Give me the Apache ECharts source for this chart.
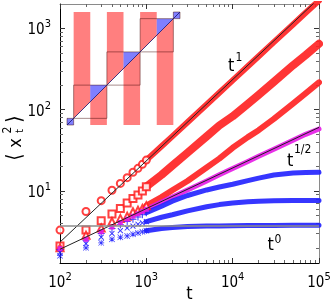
<!DOCTYPE html>
<html><head><meta charset="utf-8">
<script src="https://cdn.jsdelivr.net/npm/echarts@6/dist/echarts.min.js"></script>
<style>html,body{margin:0;padding:0;background:#fff}#c{width:332px;height:306px}</style>
</head><body><div id="c"></div>
<script>
// ---- data ----
const tValues = [100,200,300,400,500,600,700,800,900,1000,1500,2000,3000,5000,7000,10000,15000,20000,30000,50000,70000,100000];
const redCircles    = [3.3,5.6,7.6,10.2,12.4,14.6,17.0,19.0,21.3,24.0,35.5,47,70,116,162,230,342,455,680,1120,1560,2200];
const redSquares    = [2.1,3.3,4.3,5.2,6.1,7.1,8.1,8.9,10.0,11.3,15.8,20.5,29.5,47,64,83,118,152,220,352,470,648];
const redTriangles  = [2.0,2.86,3.5,4.2,4.6,4.9,5.55,5.8,6.1,6.6,8.4,10.2,13.3,19.5,25,34,46,56,77,119,159,217];
const magentaSquares= [1.95,2.55,3.15,3.6,4.1,4.5,4.9,5.25,5.6,5.95,7.3,8.45,10.3,13.3,15.8,18.9,23.1,26.7,32.7,42.2,49.8,58];
const bluePlus      = [1.9,2.45,3.0,3.45,3.85,4.2,4.5,4.8,5.1,5.4,6.5,7.5,8.8,10.3,11.2,12.1,13.4,14.4,15.7,16.6,16.9,17.0];
const blueCross     = [1.75,2.25,2.7,3.0,3.25,3.5,3.7,3.9,4.05,4.2,4.75,5.1,5.7,6.4,6.8,7.1,7.35,7.5,7.6,7.65,7.65,7.65];
const blueStars     = [1.6,2.0,2.3,2.55,2.7,2.8,2.94,3.05,3.15,3.25,3.45,3.55,3.65,3.7,3.72,3.74,3.75,3.76,3.77,3.78,3.78,3.78];
const refT      = [100, 100000];
const refLinear = [2.35, 2350];
const refSqrt   = [1.92, 60.7];
const refFlat   = [3.7, 3.7];
const xRange = [100, 100000];
const yRange = [1.3, 2000];
const xTickExp = [2,3,4,5];
const yTickExp = [1,2,3];
// inset (staircase map) geometry in its own units
const insetRange = [-0.2, 3.2];
const insetRedAbove = [[0,0.5],[1,1.5],[2,2.5]];
const insetRedBelow = [[0.5,1],[1.5,2],[2.5,3]];
const insetBlueTriangles = [[0.5,1],[1.5,2],[2.5,3]];
const insetBlueEnds = [[-0.2,0],[3,3.2]];
const insetSteps = [[-0.2,0],[0,1],[1,2],[2,3],[3,3.2]];

// ---- helpers ----
const FONT = "'Liberation Sans Narrow','DejaVu Sans Condensed','Liberation Sans',Arial,sans-serif";
const splitIdx = 9; // markers up to t=1000, dense band afterwards
function pairs(xs, ys, from, to) { const o=[]; for (let i=from;i<to;i++) o.push([xs[i], ys[i]]); return o; }
function minorLogs(lo, hi) {
  const out=[];
  for (let e=Math.floor(lo)-1; e<=Math.ceil(hi); e++) for (let k=2;k<=9;k++) {
    const v = e + Math.log10(k); if (v>lo+1e-9 && v<hi-1e-9) out.push(v);
  }
  return out;
}
const xl = [Math.log10(xRange[0]), Math.log10(xRange[1])];
const yl = [Math.log10(yRange[0]), Math.log10(yRange[1])];
const xMinor = minorLogs(xl[0], xl[1]);
const yMinor = minorLogs(yl[0], yl[1]);
const labelRich = {
  b: {fontSize:15, fontFamily:FONT, color:'#000', lineHeight:19, verticalAlign:'bottom'},
  s: {fontSize:11, fontFamily:FONT, color:'#000', lineHeight:11, verticalAlign:'top'}
};
const fmt = v => '{b|10}{s|' + Math.round(v) + '}';

function tickAxis(kind, pos, vals, len, withLabel, lineColor, range) {
  return {
    type:'value', gridIndex:0, position:pos, min:range[0], max:range[1],
    axisLine:{show: !!lineColor, onZero:false, lineStyle:{color:lineColor || '#000', width:1}},
    axisTick:{show:true, inside:true, length:len, customValues: vals, lineStyle:{color: len>4 ? '#333' : '#666', width:1}},
    axisLabel: withLabel ? {show:true, customValues: vals, formatter: fmt, rich: labelRich, margin: kind==='x' ? 9 : 9} : {show:false},
    splitLine:{show:false}
  };
}

const red = '#ff1f1f', magenta = '#e61ae6', blue = '#2020ff';
const plusPath = 'path://M4.3,0H5.7V4.3H10V5.7H5.7V10H4.3V5.7H0V4.3H4.3Z';
const starPath = 'path://M4.4,0H5.6V4.4H10V5.6H5.6V10H4.4V5.6H0V4.4H4.4Z M0,0.8L0.8,0L10,9.2L9.2,10Z M9.2,0L10,0.8L0.8,10L0,9.2Z';

function markerSeries(ys, symbol, size, color, rotate, filled) {
  return {
    type:'scatter', xAxisIndex:0, yAxisIndex:0, data: pairs(tValues, ys, 0, splitIdx+1),
    symbol, symbolSize:size, symbolRotate: rotate||0, z:3,
    itemStyle: filled ? {color, opacity:0.9} : {color, borderColor:color, borderWidth:1, opacity:0.85},
    silent:true
  };
}
function bandSeries(ys, color, width) {
  return {
    type:'line', xAxisIndex:0, yAxisIndex:0, data: pairs(tValues, ys, splitIdx, tValues.length),
    showSymbol:false, symbol:'none', smooth:false, z:3,
    lineStyle:{color, width, opacity:0.9, cap:'round', join:'round'}, silent:true
  };
}
function refSeries(ys, color, width) {
  return {
    type:'line', xAxisIndex:0, yAxisIndex:0, data: pairs(refT, ys, 0, refT.length),
    showSymbol:false, symbol:'none', z:5, clip:true,
    lineStyle:{color, width}, silent:true
  };
}
function insetPoly(data, ptsFn, style, z) {
  return {
    type:'custom', xAxisIndex:5, yAxisIndex:5, data, z, silent:true,
    renderItem: (p, api) => {
      const a = api.value(0), b = api.value(1);
      return {type:'polygon', shape:{points: ptsFn(a,b).map(q => api.coord(q))}, style};
    }
  };
}
const lo = insetRange[0], hi = insetRange[1];

const option = {
  animation:false,
  backgroundColor:'#fff',
  grid:[
    {left:60, top:4, width:259, height:259, outerBoundsMode:'none'},
    {left:67, top:12, width:113, height:113, outerBoundsMode:'none'}
  ],
  xAxis:[
    {type:'log', logBase:10, gridIndex:0, min:xRange[0], max:xRange[1], position:'bottom',
     axisLine:{show:true, onZero:false, lineStyle:{color:'#000', width:1}}, axisTick:{show:false}, axisLabel:{show:false}, splitLine:{show:false},
     name:'t', nameLocation:'middle', nameGap:22, nameTextStyle:{fontSize:18, fontFamily:FONT, color:'#000', verticalAlign:'top'}},
    tickAxis('x','bottom', xTickExp, 5, true, null, xl),
    tickAxis('x','bottom', xMinor, 3, false, null, xl),
    tickAxis('x','top', xTickExp, 5, false, '#8a8a8a', xl),
    tickAxis('x','top', xMinor, 3, false, null, xl),
    {type:'value', gridIndex:1, min:lo, max:hi, show:false}
  ],
  yAxis:[
    {type:'log', logBase:10, gridIndex:0, min:yRange[0], max:yRange[1], position:'left',
     axisLine:{show:true, onZero:false, lineStyle:{color:'#000', width:1}}, axisTick:{show:false}, axisLabel:{show:false}, splitLine:{show:false}},
    tickAxis('y','left', yTickExp, 5, true, null, yl),
    tickAxis('y','left', yMinor, 3, false, null, yl),
    tickAxis('y','right', yTickExp, 5, false, '#8a8a8a', yl),
    tickAxis('y','right', yMinor, 3, false, null, yl),
    {type:'value', gridIndex:1, min:lo, max:hi, show:false}
  ],
  series:[
    bandSeries(redCircles, red, 6),
    bandSeries(redSquares, red, 8),
    bandSeries(redTriangles, red, 6),
    bandSeries(magentaSquares, magenta, 5),
    bandSeries(bluePlus, blue, 5),
    bandSeries(blueCross, blue, 5),
    bandSeries(blueStars, blue, 5),
    markerSeries(redCircles, 'emptyCircle', 7, red),
    markerSeries(redSquares, 'emptyRect', 7, red),
    markerSeries(redTriangles, 'emptyTriangle', 7, red),
    markerSeries(bluePlus, plusPath, 7, blue, 0, true),
    markerSeries(blueCross, plusPath, 7, blue, 45, true),
    markerSeries(magentaSquares, 'rect', 5, magenta, 0, true),
    markerSeries(blueStars, starPath, 6, blue, 0, true),
    refSeries(refLinear, '#222', 1),
    refSeries(refSqrt, '#222', 1),
    refSeries(refFlat, '#8c8c8c', 1.5),
    // inset
    insetPoly(insetRedAbove, (a,b)=>[[a,a],[b,b],[b,hi],[a,hi]], {fill:'rgba(255,0,0,0.5)'}, 10),
    insetPoly(insetRedBelow, (a,b)=>[[a,lo],[b,lo],[b,b],[a,a]], {fill:'rgba(255,0,0,0.5)'}, 10),
    insetPoly(insetBlueTriangles, (a,b)=>[[a,b],[b,b],[a,a]], {fill:'rgba(0,0,255,0.5)'}, 10),
    insetPoly(insetBlueEnds, (a,b)=>[[a,a],[b,a],[b,b],[a,b]], {fill:'rgba(0,0,255,0.5)'}, 10),
    insetPoly(insetSteps, (a,b)=>[[a,a],[b,a],[b,b],[a,b]], {fill:'none', stroke:'rgba(60,0,0,0.45)', lineWidth:1}, 11),
    {type:'line', xAxisIndex:5, yAxisIndex:5, data:[[lo,lo],[hi,hi]], showSymbol:false, symbol:'none', z:12,
     lineStyle:{color:'rgba(20,20,110,0.8)', width:1}, silent:true}
  ],
  graphic:[
    {type:'text', x:228, y:66, style:{text:'t', fontSize:18, fontFamily:FONT, fill:'#000', verticalAlign:'middle'}},
    {type:'text', x:235.5, y:58, style:{text:'1', fontSize:12, fontFamily:FONT, fill:'#000', verticalAlign:'middle'}},
    {type:'text', x:287, y:161, style:{text:'t', fontSize:18, fontFamily:FONT, fill:'#000', verticalAlign:'middle'}},
    {type:'text', x:294, y:150, style:{text:'1/2', fontSize:12, fontFamily:FONT, fill:'#000', verticalAlign:'middle'}},
    {type:'text', x:267.5, y:245, style:{text:'t', fontSize:18, fontFamily:FONT, fill:'#000', verticalAlign:'middle'}},
    {type:'text', x:274.5, y:240, style:{text:'0', fontSize:12, fontFamily:FONT, fill:'#000', verticalAlign:'middle'}},
    {type:'group', x:16, y:140, rotation:Math.PI/2, children:[
      {type:'text', x:-17, y:0, style:{text:'⟨', fontSize:21, fontFamily:FONT, fill:'#000', align:'center', verticalAlign:'middle'}},
      {type:'text', x:-3, y:0, style:{text:'x', fontSize:18, fontFamily:FONT, fill:'#000', align:'center', verticalAlign:'middle'}},
      {type:'text', x:9, y:4, style:{text:'t', fontSize:11, fontFamily:FONT, fill:'#000', align:'center', verticalAlign:'middle'}},
      {type:'text', x:10, y:-8, style:{text:'2', fontSize:12, fontFamily:FONT, fill:'#000', align:'center', verticalAlign:'middle'}},
      {type:'text', x:21, y:0, style:{text:'⟩', fontSize:21, fontFamily:FONT, fill:'#000', align:'center', verticalAlign:'middle'}}
    ]}
  ]
};
const chart = echarts.init(document.getElementById('c'), null, {renderer:'canvas', width:332, height:306});
chart.setOption(option);
</script></body></html>
